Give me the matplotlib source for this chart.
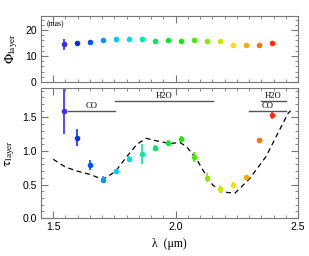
import numpy as np
import matplotlib.pyplot as plt
from matplotlib.ticker import MultipleLocator

plt.rcParams['font.family'] = ['Liberation Sans', 'DejaVu Sans']
plt.rcParams['mathtext.fontset'] = 'stix'

# wavelengths of the channels (um)
lam = [1.545, 1.598, 1.651, 1.704, 1.757, 1.810, 1.863, 1.916, 1.969,
       2.022, 2.075, 2.128, 2.181, 2.234, 2.287, 2.340, 2.393]
# layer diameter (mas)
phi = [14.5, 14.9, 15.3, 16.0, 16.4, 16.4, 16.5, 15.9, 16.0,
       15.6, 16.0, 15.9, 15.6, 14.1, 14.2, 14.4, 14.9]
phi_err = [2.1, 0.5, 0.4, 0.4, 0.3, 0.3, 0.3, 0.3, 0.3,
           0.3, 0.3, 0.3, 0.6, 0.3, 0.3, 0.3, 0.5]
# layer optical depth
tau = [1.60, 1.20, 0.79, 0.57, 0.70, 0.88, 0.955, 1.045, 1.12,
       1.18, 0.915, 0.60, 0.43, 0.49, 0.61, 1.16, 1.53]
tau_err = [0.35, 0.13, 0.07, 0.05, 0.03, 0.04, 0.15, 0.04, 0.04,
           0.05, 0.075, 0.07, 0.06, 0.04, 0.02, 0.02, 0.05]
cols = ['#3a2cf0', '#0a2cff', '#0052ff', '#0096ff', '#00c8ff', '#00dede',
        '#00eaa6', '#00e860', '#00ec30', '#10ee00', '#48ea00', '#8ae800',
        '#cce600', '#ffdc00', '#ffaa00', '#ff7400', '#ff3010']

# model curve
mod_lam = [1.50, 1.55, 1.598, 1.651, 1.692, 1.704, 1.753, 1.80, 1.842, 1.879,
           1.924, 1.977, 2.017, 2.046, 2.087, 2.119, 2.152, 2.189, 2.242,
           2.27, 2.303, 2.369, 2.41, 2.459, 2.47]
mod_tau = [0.876, 0.76, 0.70, 0.65, 0.59, 0.58, 0.69, 0.915, 1.10, 1.19,
           1.15, 1.11, 1.13, 1.06, 0.87, 0.67, 0.49, 0.39, 0.37,
           0.47, 0.59, 0.915, 1.21, 1.56, 1.60]

# absorption bands: (start, end, level, label)
bands = [(1.561, 1.753, 1.60, 'CO'), (1.753, 2.151, 1.75, 'H2O'),
         (2.348, 2.45, 1.75, 'H2O'), (2.299, 2.45, 1.60, 'CO')]

fig = plt.figure(figsize=(3.09, 2.56), dpi=100)
ax1 = fig.add_axes([0.1327, 0.6797, 0.8317, 0.2578])
ax2 = fig.add_axes([0.1327, 0.1484, 0.8317, 0.5078])

for i in range(len(lam)):
    ax1.errorbar(lam[i], phi[i], yerr=phi_err[i], fmt='o', color=cols[i],
                 ms=3, elinewidth=1.2, capsize=0)
    ax2.errorbar(lam[i], tau[i], yerr=tau_err[i], fmt='o', color=cols[i],
                 ms=3, elinewidth=1.2, capsize=0)

ax2.plot(mod_lam, mod_tau, 'k--', lw=0.9, dashes=(4, 3))

for b in bands:
    ax2.plot([b[0], b[1]], [b[2], b[2]], color='#555555', lw=1)
    ax2.text((b[0] + b[1]) / 2, b[2] + 0.005, b[3], ha='center', va='bottom',
             fontsize=6.2, family='Liberation Serif')

ax1.text(1.475, 21.3, '(mas)', fontsize=5.5, family='Liberation Serif')

for ax in (ax1, ax2):
    ax.set_xlim(1.45, 2.5)
    ax.xaxis.set_major_locator(MultipleLocator(0.5))
    ax.xaxis.set_minor_locator(MultipleLocator(0.05))
    ax.tick_params(which='both', direction='in', top=True, right=True,
                   color='#777777', labelsize=7.5, pad=3)
    ax.tick_params(which='major', length=5)
    ax.tick_params(which='minor', length=2.5)
    for s in ax.spines.values():
        s.set_color('#777777')

ax1.set_ylim(0, 25.4)
ax1.yaxis.set_major_locator(MultipleLocator(10))
ax1.yaxis.set_minor_locator(MultipleLocator(2))
ax1.set_xticklabels([])
ax1.set_ylabel(r'$\Phi_{\rm layer}$', fontsize=9.5, labelpad=4)

ax2.set_ylim(0, 1.94)
ax2.yaxis.set_major_locator(MultipleLocator(0.5))
ax2.yaxis.set_minor_locator(MultipleLocator(0.1))
ax2.set_ylabel(r'$\mathrm{\tau}_{\rm layer}$', fontsize=9.5, labelpad=4)
ax2.set_xlabel('λ  (μm)', fontsize=8.5, family='Liberation Serif')

fig.savefig('out.png', dpi=100)
